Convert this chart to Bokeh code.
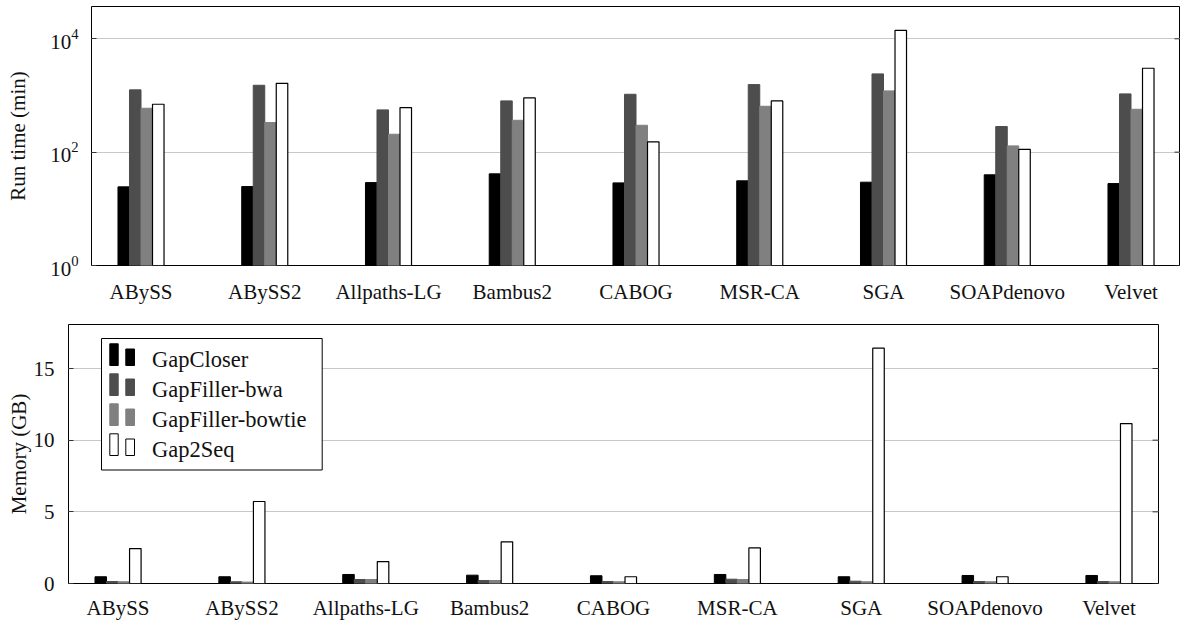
from bokeh.plotting import figure
from bokeh.models import Range1d, FixedTicker, ColumnDataSource
from bokeh.embed import file_html
from bokeh.resources import INLINE
from bokeh.core.properties import value

# ---------------- data ----------------
assemblers = ["ABySS", "ABySS2", "Allpaths-LG", "Bambus2", "CABOG",
              "MSR-CA", "SGA", "SOAPdenovo", "Velvet"]
tools = ["GapCloser", "GapFiller-bwa", "GapFiller-bowtie", "Gap2Seq"]

runtime_gapcloser = [24.4, 24.7, 29, 41.4, 28.7, 31.2, 29.5, 39.8, 27.9]
runtime_gapfiller_bwa = [1256, 1514, 557, 803, 1050, 1556, 2404, 283, 1067]
runtime_gapfiller_bowtie = [595, 333, 207, 365, 298, 645, 1205, 129, 571]
runtime_gap2seq = [700, 1641, 612, 907, 152, 803, 14100, 112, 3020]

memory_gapcloser = [0.47, 0.47, 0.63, 0.58, 0.54, 0.63, 0.47, 0.56, 0.56]
memory_gapfiller_bwa = [0.14, 0.12, 0.28, 0.21, 0.14, 0.30, 0.16, 0.14, 0.14]
memory_gapfiller_bowtie = [0.12, 0.10, 0.28, 0.21, 0.12, 0.28, 0.12, 0.12, 0.12]
memory_gap2seq = [2.44, 5.72, 1.53, 2.91, 0.47, 2.48, 16.42, 0.47, 11.16]

runtime_ticks = [1, 100, 10000]
memory_ticks = [0, 5, 10, 15]

# ---------------- style ----------------
FONT = "Liberation Serif"
FS = "21px"
LEG_FS = "22.5px"
fill_colors = ["#000000", "#4d4d4d", "#808080", "#ffffff"]
line_colors = ["#000000", "#4d4d4d", "#808080", "#000000"]
line_widths = [1, 1, 1, 1.2]
GRID = "#c8c8c8"
TICK = "#333333"
BAR_W = 0.093
X_START, X_END = -0.4, 8.4
offsets = [-1.5 * BAR_W, -0.5 * BAR_W, 0.5 * BAR_W, 1.5 * BAR_W]
xpos = list(range(len(assemblers)))
labels = {i: a for i, a in enumerate(assemblers)}


def style(p, ticks, label, label_standoff, tick_standoff, x_standoff, frame_px):
    p.outline_line_color = "#000000"
    p.outline_line_width = 1
    p.xaxis.ticker = FixedTicker(ticks=xpos)
    p.xaxis.major_label_overrides = labels
    p.xaxis.major_tick_line_color = None
    p.xaxis.minor_tick_line_color = None
    p.xaxis.axis_line_color = None
    p.xaxis.major_label_standoff = x_standoff
    p.xgrid.grid_line_color = None
    p.yaxis.ticker = FixedTicker(ticks=ticks)
    p.yaxis.major_tick_in = 5
    p.yaxis.major_tick_out = 0
    p.yaxis.major_tick_line_color = TICK
    p.yaxis.minor_tick_line_color = None
    p.yaxis.axis_line_color = None
    p.yaxis.major_label_standoff = tick_standoff
    p.yaxis.axis_label = label
    p.yaxis.axis_label_standoff = label_standoff
    p.ygrid.ticker = FixedTicker(ticks=ticks)
    p.ygrid.grid_line_color = GRID
    p.ygrid.grid_line_width = 1
    for ax in p.xaxis + p.yaxis:
        ax.major_label_text_font = FONT
        ax.major_label_text_font_size = FS
        ax.major_label_text_color = "#111111"
        ax.axis_label_text_font = FONT
        ax.axis_label_text_font_size = FS
        ax.axis_label_text_font_style = "normal"
        ax.axis_label_text_color = "#111111"
    # inward tick marks on the right edge of the frame (pgfplots style)
    tick_len = 6 * (X_END - X_START) / frame_px
    p.segment(x0=[X_END - tick_len] * len(ticks), x1=[X_END] * len(ticks),
              y0=ticks, y1=ticks, line_color=TICK, line_width=1)


def bars(p, series, base):
    for i, vals in enumerate(series):
        src = ColumnDataSource(dict(x=[x + offsets[i] for x in xpos], top=vals,
                                    bottom=[base] * len(vals)))
        p.vbar(x="x", top="top", bottom="bottom", width=BAR_W, source=src,
               fill_color=fill_colors[i], line_color=line_colors[i],
               line_width=line_widths[i])


# ---------------- top: run time ----------------
p1 = figure(width=1180, height=309, x_range=Range1d(X_START, X_END),
            y_range=Range1d(1, 37150), y_axis_type="log",
            output_backend="svg", toolbar_location=None,
            min_border_left=91, min_border_right=0, min_border_top=6,
            min_border_bottom=44)
style(p1, runtime_ticks, "Run time (min)", 17, 13, 8, 1089)
bars(p1, [runtime_gapcloser, runtime_gapfiller_bwa, runtime_gapfiller_bowtie,
          runtime_gap2seq], 1)

# ---------------- bottom: memory ----------------
p2 = figure(width=1180, height=318, x_range=Range1d(X_START, X_END),
            y_range=Range1d(0, 18.07),
            output_backend="svg", toolbar_location=None,
            min_border_left=68, min_border_right=22, min_border_top=15,
            min_border_bottom=44)
style(p2, memory_ticks, "Memory (GB)", 0, 14, 6, 1090)
bars(p2, [memory_gapcloser, memory_gapfiller_bwa, memory_gapfiller_bowtie,
          memory_gap2seq], 0)

# ---------------- legend (pgfplots-style, drawn in the lower frame) ----------------
def X(px):
    return X_START + (px - 68) * (X_END - X_START) / 1090


def Y(py):
    return (584 - py) * 18.07 / 259


p2.quad(left=[X(101)], right=[X(321.7)], top=[Y(339)], bottom=[Y(470.5)],
        fill_color="#ffffff", line_color="#000000", line_width=1)
for i, name in enumerate(tools):
    dy = 30 * i
    p2.quad(left=[X(109.3), X(125.3)], right=[X(117.7), X(134.0)],
            top=[Y(344.3 + dy), Y(349.5 + dy)], bottom=[Y(366 + dy), Y(366 + dy)],
            fill_color=fill_colors[i], line_color=line_colors[i], line_width=1)
    p2.text(x=[X(151.5)], y=[Y(359.5 + dy)], text=[name],
            text_font=value(FONT), text_font_size=value(LEG_FS),
            text_color="#111111", text_baseline="alphabetic", text_align="left")

# two independent roots so that their frames are not aligned to each other
open("out.html", "w").write(file_html([p1, p2], INLINE))
